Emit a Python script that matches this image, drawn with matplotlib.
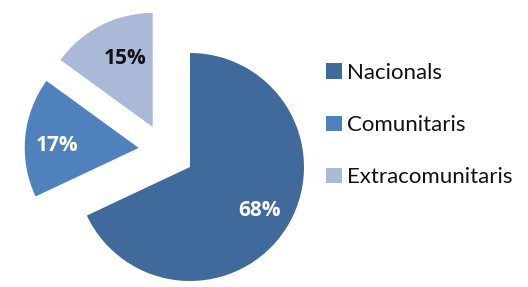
import numpy as np
import matplotlib.pyplot as plt

labels = ['Nacionals', 'Comunitaris', 'Extracomunitaris']
shares = [68, 17, 15]
colors = ['#416A9C', '#4F81BD', '#AAB9D7']
explode = [0, 0.48, 0.48]

fig = plt.figure(figsize=(5.28, 2.87), dpi=100)
ax = fig.add_axes([0, 0, 1, 1])

wedges, texts, autotexts = ax.pie(shares, colors=colors, explode=explode,
                                  startangle=90, counterclock=False,
                                  autopct='%1.0f%%', pctdistance=0.72,
                                  textprops=dict(family='Open Sans', fontsize=15,
                                                 fontweight='bold', color='white'))
autotexts[2].set_color('#111111')

# the exploded slices are pushed apart a little more than matplotlib's mid-angle offset,
# and the small labels sit slightly off the slice bisector
rotations = [0, -15, 16]
nudges = [(0, 0), (0, -0.05), (0.085, -0.045)]
for w, t, deg, (dx, dy) in zip(wedges, autotexts, rotations, nudges):
    rot = np.deg2rad(deg)
    cx, cy = w.center
    nx = cx * np.cos(rot) - cy * np.sin(rot)
    ny = cx * np.sin(rot) + cy * np.cos(rot)
    w.set_center((nx, ny))
    tx, ty = t.get_position()
    t.set_position((tx + nx - cx + dx, ty + ny - cy + dy))

# pie centre at (190, 167) px, radius 114 px
ax.set_xlim(-190 / 114, (528 - 190) / 114)
ax.set_ylim(-(287 - 167) / 114, 167 / 114)
ax.set_aspect('auto')
ax.axis('off')

leg = ax.legend(wedges, labels, loc='upper left', bbox_to_anchor=(326 / 528, 1 - 63 / 287),
                frameon=False, handlelength=0.7, handleheight=0.7, handletextpad=0.25,
                labelspacing=1.45, borderaxespad=0, borderpad=0,
                prop=dict(family='Lato', size=16))
for t in leg.get_texts():
    t.set_color('#111111')

fig.savefig('out.png', dpi=100)
